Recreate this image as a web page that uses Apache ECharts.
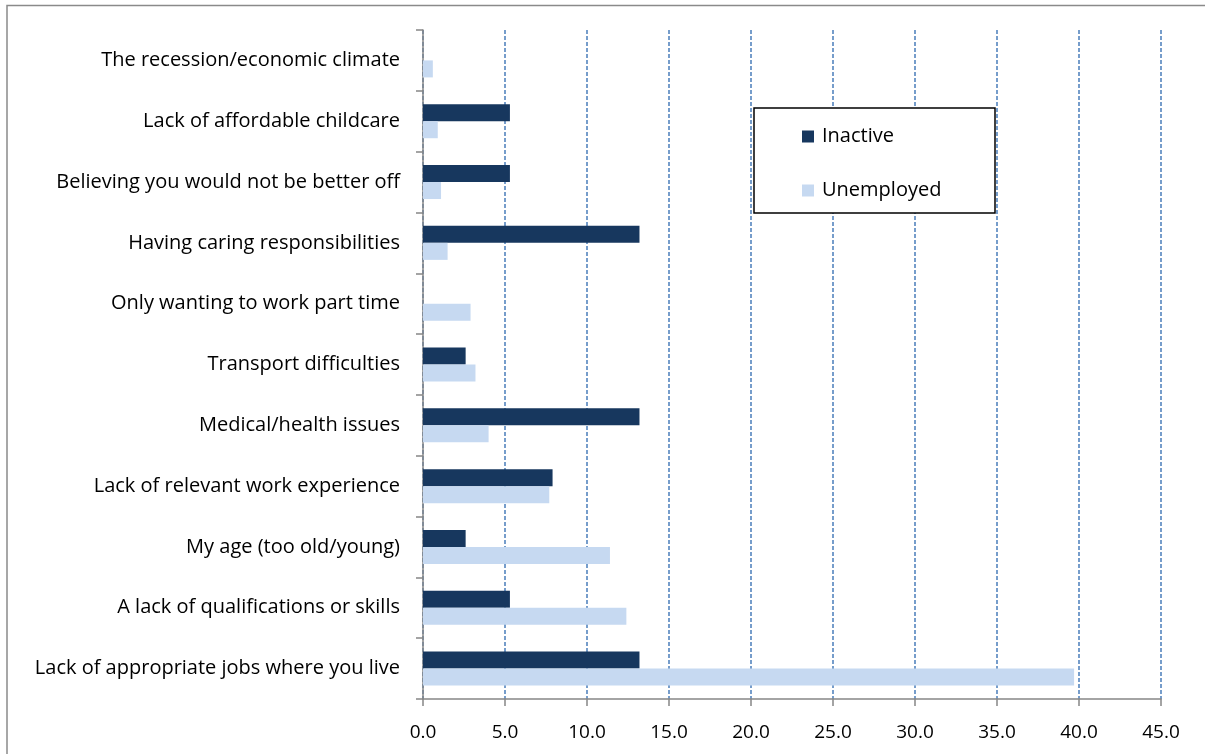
<!DOCTYPE html>
<html>
<head>
<meta charset="utf-8">
<script src="https://cdn.jsdelivr.net/npm/echarts@6/dist/echarts.min.js"></script>
<style>
  html, body { margin: 0; padding: 0; background: #fff; }
  #chart { width: 1205px; height: 754px; }
</style>
</head>
<body>
<div id="chart"></div>
<script>
// Reasons given as barriers to work (%), top to bottom
const categories = [
  'The recession/economic climate',
  'Lack of affordable childcare',
  'Believing you would not be better off',
  'Having caring responsibilities',
  'Only wanting to work part time',
  'Transport difficulties',
  'Medical/health issues',
  'Lack of relevant work experience',
  'My age (too old/young)',
  'A lack of qualifications or skills',
  'Lack of appropriate jobs where you live'
];
const inactive   = [null, 5.3, 5.3, 13.2, null, 2.6, 13.2, 7.9, 2.6, 5.3, 13.2];
const unemployed = [0.6, 0.9, 1.1, 1.5, 2.9, 3.2, 4.0, 7.7, 11.4, 12.4, 39.7];

const seriesNames = ['Inactive', 'Unemployed'];
const seriesColors = ['#17375E', '#C6D9F1'];

const fontFamily = '"Open Sans", "Liberation Sans", Arial, sans-serif';
const chart = echarts.init(document.getElementById('chart'), null, { renderer: 'canvas' });

chart.setOption({
  animation: false,
  backgroundColor: '#fff',
  textStyle: { fontFamily },
  graphic: [
    // outer chart frame (top and left edges)
    { type: 'polyline', shape: { points: [[7, 760], [7, 5.5], [1210, 5.5]] },
      style: { stroke: '#8a8a8a', lineWidth: 1.5, fill: null } },
    // legend frame
    { type: 'rect', shape: { x: 754, y: 108, width: 241, height: 105 },
      style: { stroke: '#000', lineWidth: 1.5, fill: '#fff' }, z: 5 }
  ],
  legend: {
    data: seriesNames,
    orient: 'vertical',
    left: 754,
    top: 108,
    padding: [17, 10, 10, 48],
    itemGap: 31,
    itemWidth: 12,
    itemHeight: 12,
    icon: 'rect',
    z: 10,
    textStyle: { fontSize: 20, color: '#000', fontFamily, lineHeight: 21, padding: [2, 0, 0, 3] }
  },
  grid: { left: 423, right: 44, top: 30, bottom: 55, containLabel: false },
  xAxis: {
    type: 'value',
    min: 0, max: 45, interval: 5,
    axisLine: { show: true, lineStyle: { color: '#868686', width: 1.5 } },
    axisTick: { show: true, length: 7, lineStyle: { color: '#868686', width: 1.5 } },
    axisLabel: { color: '#000', fontSize: 19, margin: 24, formatter: v => v.toFixed(1) },
    splitLine: { show: true, lineStyle: { color: '#4A7EBB', width: 1.5, type: [4, 2] } }
  },
  yAxis: {
    type: 'category',
    data: categories,
    inverse: true,
    axisLine: { show: true, lineStyle: { color: '#868686', width: 1.5 } },
    axisTick: { show: true, length: 7, lineStyle: { color: '#868686', width: 1.5 } },
    axisLabel: { color: '#000', fontSize: 20, margin: 23, padding: [6, 0, 0, 0] }
  },
  series: [
    { name: seriesNames[0], type: 'bar', data: inactive, barWidth: 17, barGap: '0%', barCategoryGap: '42%',
      itemStyle: { color: seriesColors[0] } },
    { name: seriesNames[1], type: 'bar', data: unemployed, barWidth: 17, barGap: '0%', barCategoryGap: '42%',
      itemStyle: { color: seriesColors[1] } }
  ]
});
</script>
</body>
</html>
